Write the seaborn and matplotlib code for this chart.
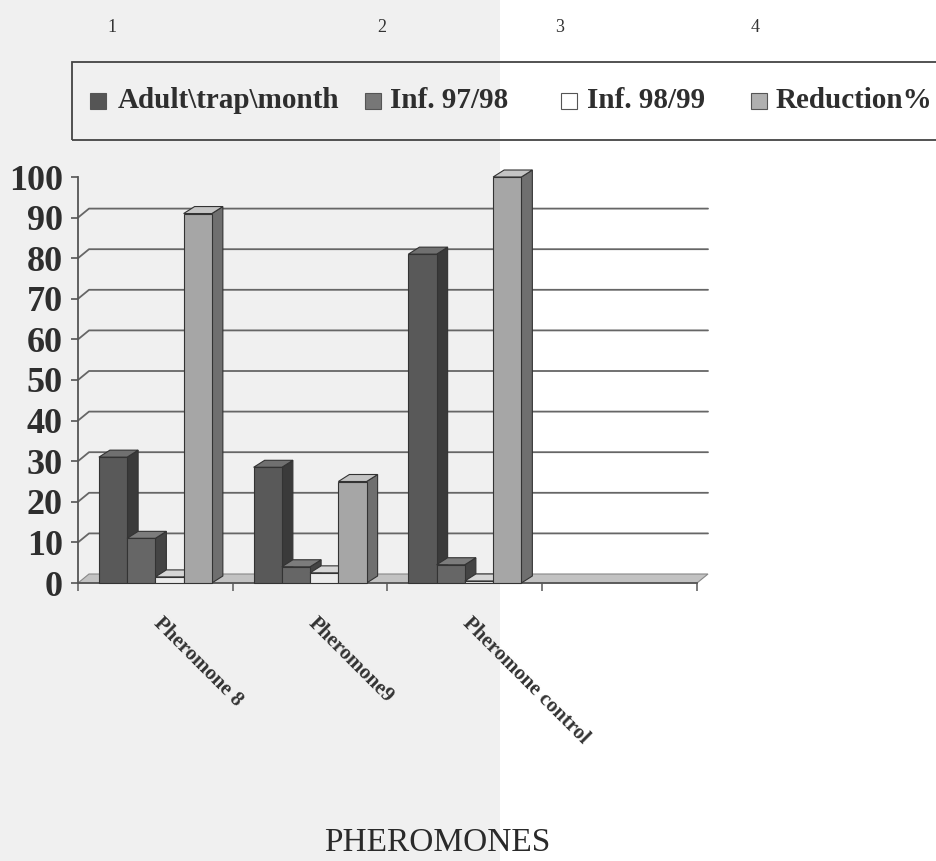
import numpy as np
import pandas as pd
import matplotlib
matplotlib.use("Agg")
import matplotlib.pyplot as plt
from matplotlib.patches import Polygon, Rectangle
from matplotlib.transforms import ScaledTranslation
import seaborn as sns

# ---------------- data ----------------
categories = ["Pheromone 8", "Pheromone9", "Pheromone control", "4"]
tick_labels = ["Pheromone 8", "Pheromone9", "Pheromone control", ""]
series = ["Adult\\trap\\month", "Inf. 97/98", "Inf. 98/99", "Reduction%"]
adult_trap_month = [31, 28.5, 81, 0]
inf_97_98 = [11, 4, 4.5, 0]
inf_98_99 = [1.5, 2.5, 0.5, 0]
reduction = [91, 25, 100, 0]
y_ticks = [0, 10, 20, 30, 40, 50, 60, 70, 80, 90, 100]
top_numbers = ["1", "2", "3", "4"]
xlabel = "PHEROMONES"

values = [adult_trap_month, inf_97_98, inf_98_99, reduction]
df = pd.DataFrame({
    "category": [c for _ in series for c in categories],
    "series": [s for s in series for _ in categories],
    "value": [v for vals in values for v in vals],
})

# ---------------- style ----------------
sns.set_theme(style="white")
plt.rcParams["font.family"] = ["Liberation Serif", "DejaVu Serif"]

front_colors = ["#595959", "#666666", "#ebebeb", "#a6a6a6"]
side_colors = ["#3a3a3a", "#444444", "#b5b5b5", "#6f6f6f"]
top_colors = ["#707070", "#7c7c7c", "#d6d6d6", "#c4c4c4"]
legend_colors = ["#555555", "#777777", "#ffffff", "#b0b0b0"]
edge = "#333333"

W, H = 937, 861
fig = plt.figure(figsize=(W / 100, H / 100), dpi=100)
fig.patch.set_facecolor("white")
# scanned page: left part greyish
fig.patches.append(Rectangle((0, 0), 500 / W, 1, transform=fig.transFigure,
                             facecolor="#f0f0f0", edgecolor="none", zorder=-10))

ax_left, ax_right, ax_top, ax_bot = 78, 697, 177, 583
ax = fig.add_axes([ax_left / W, 1 - ax_bot / H, (ax_right - ax_left) / W, (ax_bot - ax_top) / H])
ax.set_facecolor("none")

sns.barplot(data=df, x="category", y="value", hue="series", hue_order=series,
            order=categories, palette=front_colors, width=0.73, saturation=1,
            edgecolor=edge, linewidth=0.8, legend=False, ax=ax)

ax.set_xlim(-0.5, 3.5)
ax.set_ylim(0, 100)

# pixel -> data offsets for the pseudo-3D look
px_x = (ax_right - ax_left) / 4.0
px_y = (ax_bot - ax_top) / 100.0
wall_dx, wall_dy = 11 / px_x, 9 / px_y
bar_dx, bar_dy = 11 / px_x, 7 / px_y

# back-wall gridlines
for v in y_ticks[1:-1]:
    ax.plot([-0.5, -0.5 + wall_dx, 3.5 + wall_dx], [v, v + wall_dy, v + wall_dy],
            color="#666666", lw=1.3, clip_on=False, zorder=1)

# floor
ax.add_patch(Polygon([(-0.5, 0), (3.5, 0), (3.5 + wall_dx, wall_dy), (-0.5 + wall_dx, wall_dy)],
                     closed=True, facecolor="#c2c2c2", edgecolor="#888888", lw=0.8,
                     clip_on=False, zorder=1.5))

# 3D faces for bars
bars = list(ax.patches)[:len(series) * len(categories)]
order = sorted(range(len(bars)), key=lambda i: bars[i].get_x())
rank = {i: r for r, i in enumerate(order)}
for i, p in enumerate(bars):
    s = i // len(categories)
    x0, w, h = p.get_x(), p.get_width(), p.get_height()
    if h <= 0:
        p.set_visible(False)
        continue
    z = 3 + rank[i] * 2
    side = Polygon([(x0 + w, 0), (x0 + w + bar_dx, bar_dy), (x0 + w + bar_dx, h + bar_dy), (x0 + w, h)],
                   closed=True, facecolor=side_colors[s], edgecolor=edge, lw=0.8, clip_on=False, zorder=z)
    top = Polygon([(x0, h), (x0 + bar_dx, h + bar_dy), (x0 + w + bar_dx, h + bar_dy), (x0 + w, h)],
                  closed=True, facecolor=top_colors[s], edgecolor=edge, lw=0.8, clip_on=False, zorder=z)
    ax.add_patch(side)
    ax.add_patch(top)
    p.set_zorder(z + 1)
    p.set_clip_on(False)

# axes
sns.despine(ax=ax, top=True, right=True)
for sp in ["left", "bottom"]:
    ax.spines[sp].set_color("#555555")
    ax.spines[sp].set_linewidth(1.3)
    ax.spines[sp].set_zorder(2)

ax.set_yticks(y_ticks)
ax.set_yticklabels([str(t) for t in y_ticks], fontsize=26, fontweight="bold", color="#2e2e2e")
ax.tick_params(axis="y", which="major", direction="out", length=5, width=1.2, color="#555555", pad=6, left=True)

ax.set_xticks([-0.5, 0.5, 1.5, 2.5, 3.5])
ax.set_xticklabels([])
ax.set_xticks([0, 1, 2, 3], minor=True)
ax.set_xticklabels(tick_labels, minor=True, rotation=-45, ha="left", va="top",
                   rotation_mode="anchor", fontsize=15, fontweight="bold", color="#333333")
ax.tick_params(axis="x", which="major", direction="out", length=6, width=1.2, color="#666666", bottom=True)
ax.tick_params(axis="x", which="minor", length=0, pad=22, bottom=True)
for lab in ax.get_xticklabels(minor=True):
    lab.set_transform(lab.get_transform() + ScaledTranslation(0.08, 0, fig.dpi_scale_trans))

ax.set_xlabel(xlabel, fontsize=24, color="#2a2a2a", va="center")
ax.xaxis.set_label_coords((437 - ax_left) / (ax_right - ax_left), (ax_bot - 843) / (ax_bot - ax_top))
ax.set_ylabel("")

# legend box (scanned, runs off the right edge)
fig.patches.append(Rectangle((72 / W, 1 - 140 / H), 900 / W, 78 / H, transform=fig.transFigure,
                             facecolor="none", edgecolor="#444444", lw=1.3, zorder=5))
sq_x = [90, 365, 561, 751]
txt_x = [118, 390, 587, 776]
for k, name in enumerate(series):
    fig.patches.append(Rectangle((sq_x[k] / W, 1 - 109 / H), 16 / W, 16 / H, transform=fig.transFigure,
                                 facecolor=legend_colors[k], edgecolor="#555555", lw=0.8, zorder=6))
    fig.text(txt_x[k] / W, 1 - 101 / H, name, fontsize=21, fontweight="bold", color="#2e2e2e",
             ha="left", va="center")

# stray numbers at the top of the scan
for xp, t in zip([112, 382, 560, 755], top_numbers):
    fig.text(xp / W, 1 - 28 / H, t, fontsize=13, color="#333333", ha="center", va="center")

fig.savefig("out.png", dpi=100)
